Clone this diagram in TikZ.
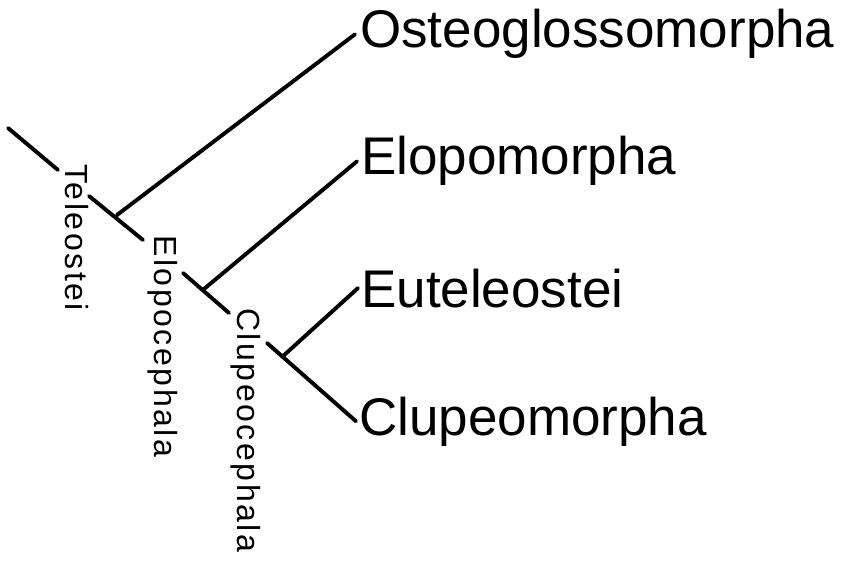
\documentclass[tikz,border=0pt]{standalone}
\usepackage{fontspec}
\setmainfont{Liberation Sans}
\newfontfamily\spacedfont[LetterSpace=8]{Liberation Sans}
\usetikzlibrary{positioning}

\begin{document}
\begin{tikzpicture}[
        x=1pt, y=-1pt,
        taxon/.style={anchor=base west, inner sep=0pt, font=\fontsize{53}{53}\selectfont},
        clade/.style={anchor=base west, inner sep=0pt, rotate=-90, font=\spacedfont\fontsize{32}{32}\selectfont},
        branch/.style={line width=3.9pt, line cap=round}
        ]
        \useasboundingbox (0,0) rectangle (850,561);
        % terminal taxa
        \node[taxon]    (osteo)     at (360,48)     {Osteoglossomorpha};
        \node[taxon]    (elopo)     at (361,175)    {Elopomorpha};
        \node[taxon]    (eutel)     at (361,307)    {Euteleostei};
        \node[taxon]    (clupeo)    at (359,435)    {Clupeomorpha};
        % clade names along the stem
        \node[clade]    (teleo)     at (65,164)     {Teleostei};
        \node[clade]    (elopoc)    at (154,235)    {Elopocephala};
        \node[clade]    (clupeoc)   at (237,308)    {Clupeocephala};
        % stem pieces and forks
        \coordinate (s_0) at (8,128);
        \coordinate (s_1) at (58,170);
        \coordinate (s_2) at (89,196);
        \coordinate (s_3) at (143,240);
        \coordinate (s_4) at (183,273);
        \coordinate (s_5) at (229,313);
        \coordinate (s_6) at (267,343);
        \coordinate (f_1) at (117,215);
        \coordinate (f_2) at (204,289);
        \coordinate (f_3) at (282,357);
        \draw[branch]
        (s_0)   --  (s_1)
        (s_2)   --  (s_3)
        (s_4)   --  (s_5)
        (s_6)   --  ([xshift=-3pt]clupeo.west)
        (f_1)   --  ([xshift=-5pt]osteo.west)
        (f_2)   --  ([xshift=-4pt]elopo.west)
        (f_3)   --  ([xshift=-3pt]eutel.west);
    \end{tikzpicture}
\end{document}
